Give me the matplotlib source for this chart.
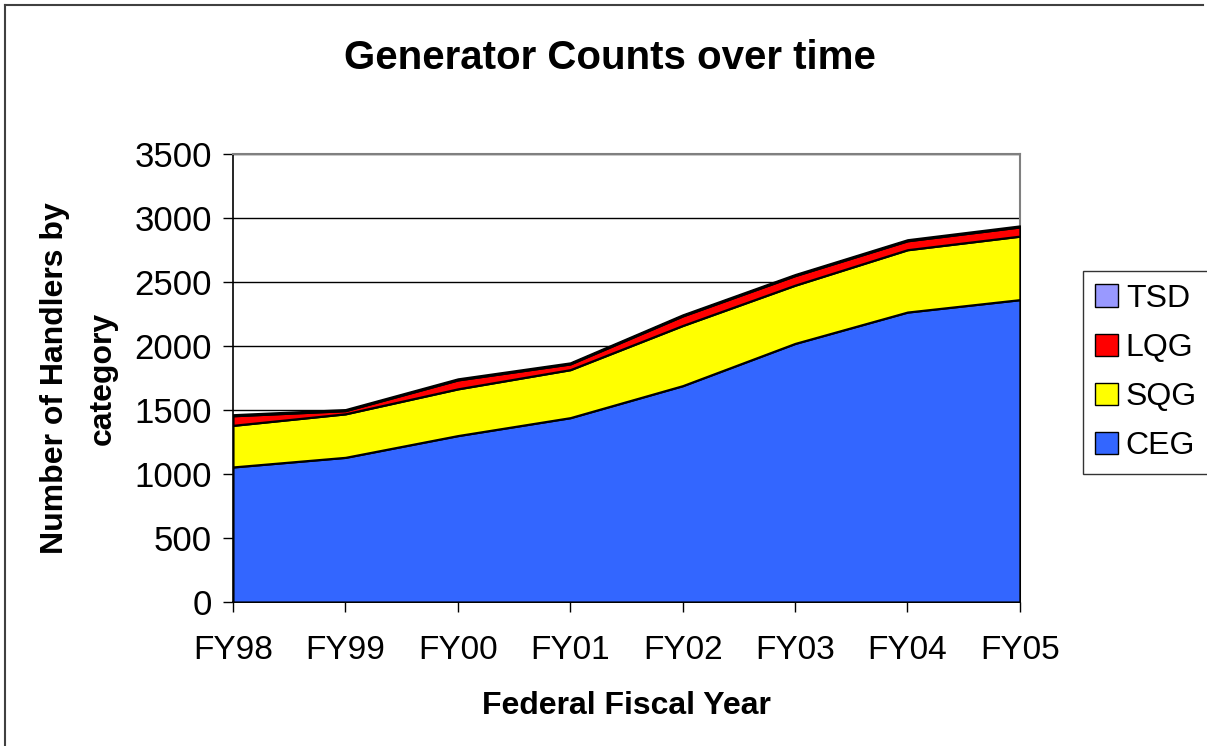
import matplotlib
matplotlib.use("Agg")
import matplotlib.pyplot as plt
from matplotlib.lines import Line2D
from matplotlib.patches import Patch

plt.rcParams['font.family'] = ['Liberation Sans', 'DejaVu Sans']

# data
years = ["FY98", "FY99", "FY00", "FY01", "FY02", "FY03", "FY04", "FY05"]
ceg = [1055, 1130, 1300, 1440, 1690, 2020, 2265, 2362]
sqg = [325, 340, 365, 375, 470, 455, 487, 496]
lqg = [75, 25, 70, 45, 75, 75, 70, 72]
tsd = [8, 8, 8, 8, 8, 8, 8, 8]

names = ["CEG", "SQG", "LQG", "TSD"]
colors = ["#3366FF", "#FFFF00", "#FF0000", "#9999FF"]

fig = plt.figure(figsize=(12.07, 7.46), dpi=100)
ax = fig.add_axes([0.193, 0.193, 0.652, 0.6006])

x = list(range(len(years)))
ax.stackplot(x, ceg, sqg, lqg, tsd, colors=colors,
             edgecolor="black", linewidth=1.6, zorder=3)

ax.set_xlim(0, len(years) - 1)
ax.set_ylim(0, 3500)
ax.set_yticks(range(0, 3501, 500))
ax.set_xticks(x)
ax.set_xticklabels(years)
ax.yaxis.grid(True, color="black", linewidth=1.0, zorder=1)
ax.set_axisbelow(True)

ax.tick_params(axis="y", direction="out", length=7, width=1, labelsize=25, pad=8)
ax.tick_params(axis="x", direction="out", length=7, width=1, labelsize=24, pad=17)

for side in ["top", "right"]:
    ax.spines[side].set_color("#808080")
    ax.spines[side].set_linewidth(1.5)
ax.spines["left"].set_linewidth(1.2)
ax.spines["bottom"].set_linewidth(1.2)

ax.set_xlabel("Federal Fiscal Year", fontsize=23, fontweight="bold", labelpad=18)
ax.set_ylabel("Number of Handlers by\ncategory", fontsize=23, fontweight="bold",
              linespacing=1.73)
ax.yaxis.set_label_coords(-0.147, 0.5)

fig.text(0.505, 0.922, "Generator Counts over time", ha="center", va="center",
         fontsize=29, fontweight="bold")

handles = [Patch(facecolor=c, edgecolor="black", linewidth=1.0) for c in colors]
leg = fig.legend(handles[::-1], names[::-1], loc="center left",
                 bbox_to_anchor=(0.897, 0.5007), fontsize=23, frameon=True,
                 fancybox=False, edgecolor="black", handlelength=0.7,
                 handleheight=0.7, handletextpad=0.25, labelspacing=0.6,
                 borderpad=0.4, borderaxespad=0)
leg.get_frame().set_linewidth(1.0)

# outer chart border (left and top)
fig.add_artist(Line2D([0.0045, 0.0045], [0.0, 0.993], color="#404040", linewidth=1.5))
fig.add_artist(Line2D([0.0045, 0.997], [0.993, 0.993], color="#404040", linewidth=1.5))

fig.savefig("out.png", dpi=100)
